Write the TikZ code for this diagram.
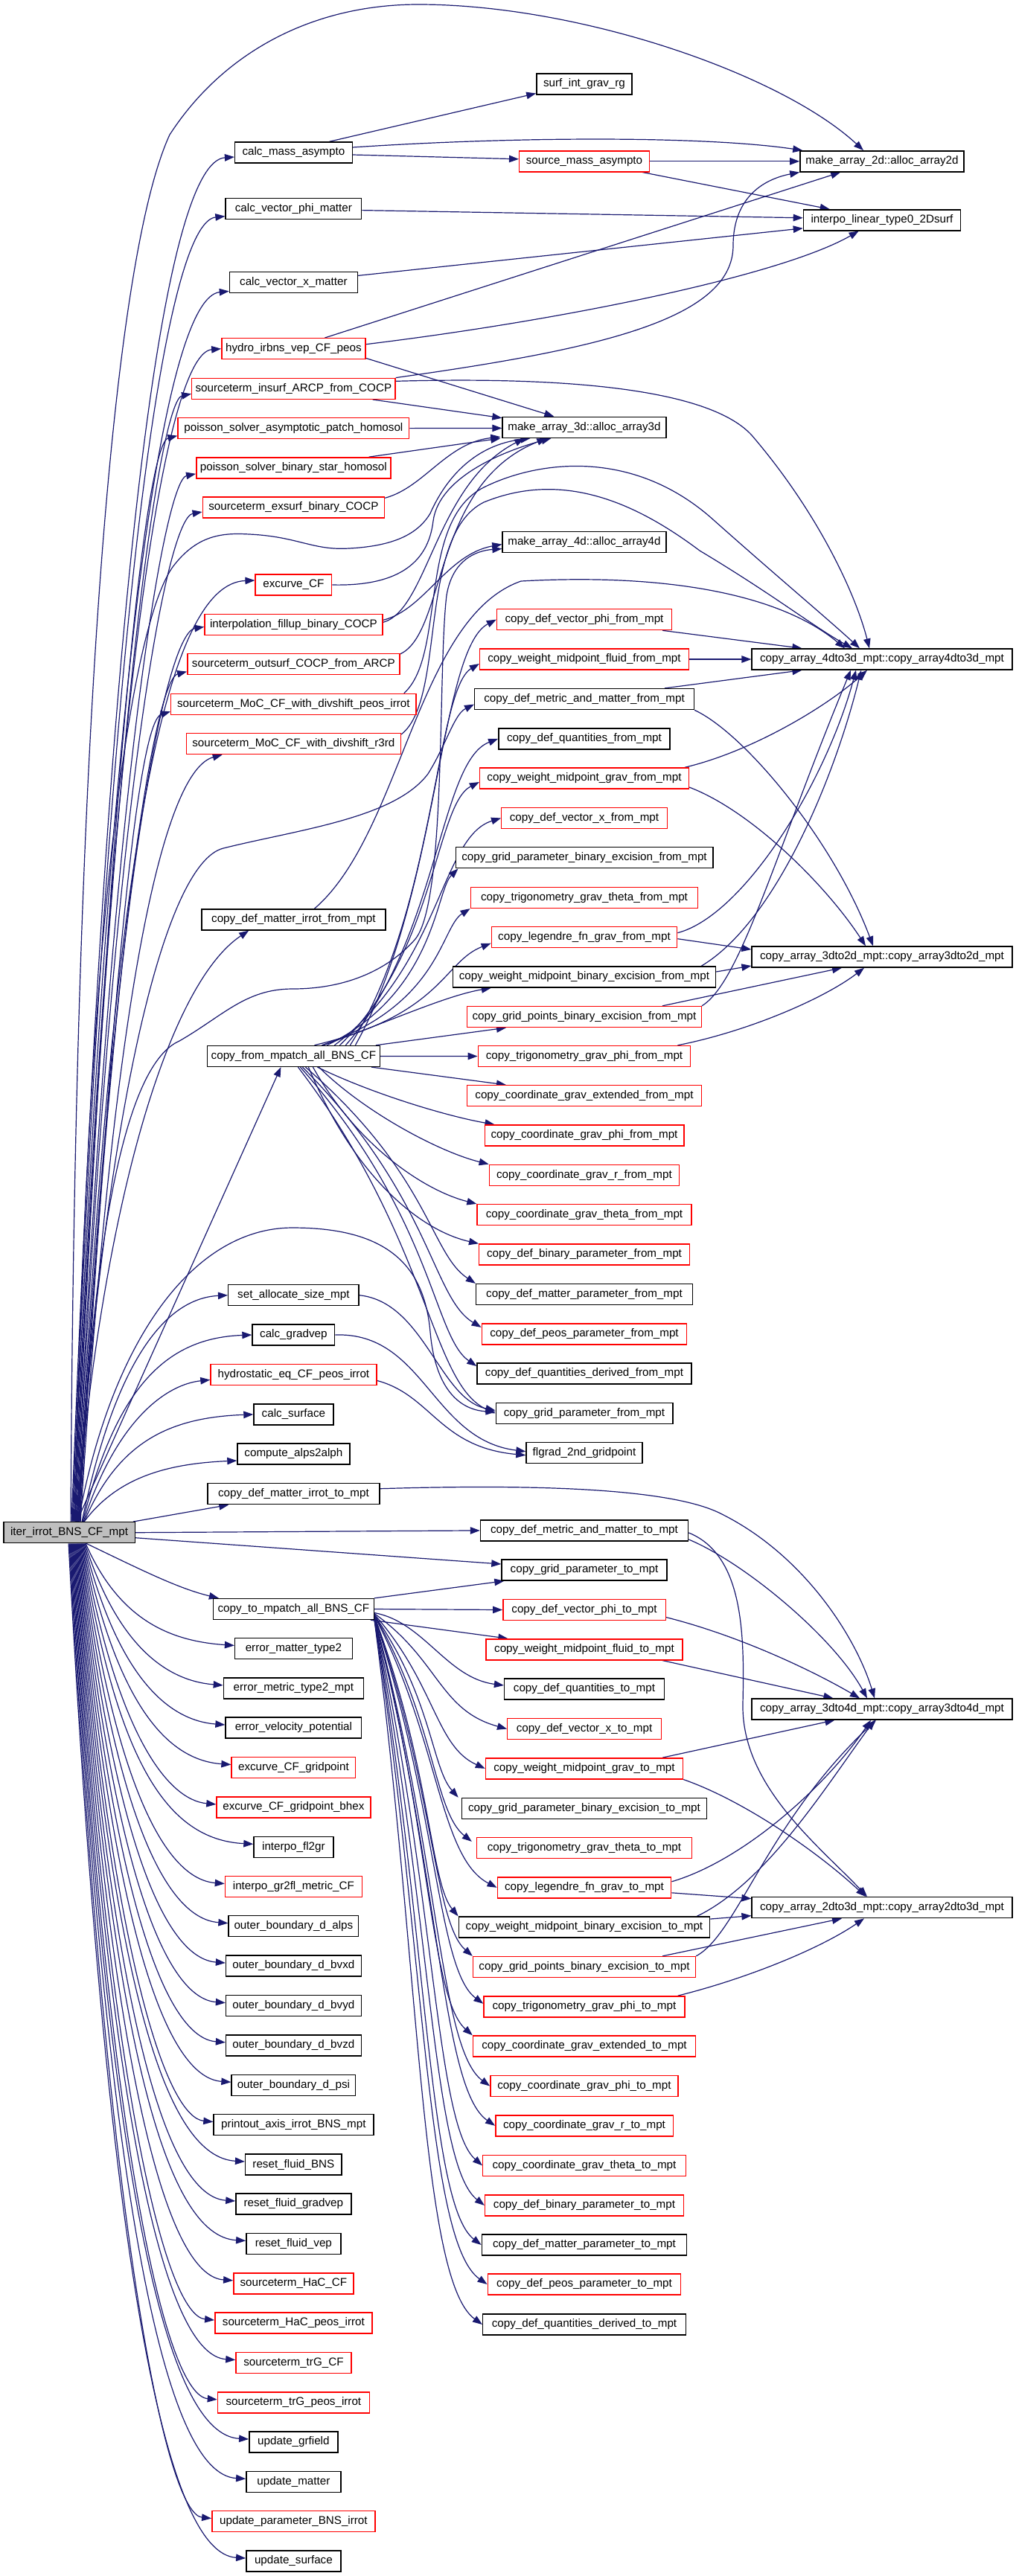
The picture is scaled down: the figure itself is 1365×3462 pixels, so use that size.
\documentclass[tikz,border=0pt]{standalone}
\usepackage{fontspec}
\setmainfont{Liberation Sans}
\usetikzlibrary{arrows.meta,calc}
\definecolor{edgecol}{HTML}{191970}
\definecolor{rootfill}{HTML}{BFBFBF}
\pgfdeclarelayer{bg}
\pgfsetlayers{bg,main}
\newcommand\mynode[6]{\node[#5,minimum width=#4pt] (#1) at (#2,#3) {#6};}
\newcommand\fanup[3]{\draw[edge] let \p1=($(root.north)+(#1,0)$), \p2=(#2) in (\p1) .. controls ({\x1+0.4*(225pt-\x1)},{\y2+0.27*(\y1-\y2)}) and ({min(\x2-40pt,225pt)},{\y2-#3pt}) .. (\p2);}
\newcommand\fandown[3]{\draw[edge] let \p1=($(root.south)+(#1,0)$), \p2=(#2) in (\p1) .. controls ({\x1+0.4*(225pt-\x1)},{\y2+0.27*(\y1-\y2)}) and ({min(\x2-40pt,225pt)},{\y2+#3pt}) .. (\p2);}
\newcommand\chanedge[5]{\draw[edge] let \p1=(#1), \p2=(#2) in (\p1) .. controls (#3pt,{\y1+#4*(\y2-\y1)}) and (#3pt,{\y2+#5}) .. (\p2);}
\begin{document}
\begin{tikzpicture}[x=1pt,y=-1pt,
  box/.style={draw=black, line width=1.4pt, minimum height=28pt, inner xsep=3pt, inner ysep=0pt, font=\fontsize{15.2}{16}\selectfont, fill=white},
  rbox/.style={box, draw=red},
  edge/.style={draw=edgecol, line width=1.2pt, -{Triangle[length=13pt,width=9.5pt]}}]
\useasboundingbox (0,0) rectangle (1365,3462);
% ---------- root
\mynode{root}{93.1}{2059.7}{176.4}{box,fill=rootfill}{iter\_irrot\_BNS\_CF\_mpt}
% ---------- column 2
\mynode{calcmass}{394.4}{205}{157.6}{box}{calc\_mass\_asympto}
\mynode{calcvphi}{394.4}{280.6}{182.7}{box}{calc\_vector\_phi\_matter}
\mynode{calcvx}{394.4}{379.4}{171.9}{box}{calc\_vector\_x\_matter}
\mynode{hydroirbns}{394.4}{468.7}{193.2}{rbox}{hydro\_irbns\_vep\_CF\_peos}
\mynode{stinsurf}{394.4}{522.3}{273.3}{rbox}{sourceterm\_insurf\_ARCP\_from\_COCP}
\mynode{psasym}{394.4}{575.6}{310.7}{rbox}{poisson\_solver\_asymptotic\_patch\_homosol}
\mynode{psbin}{394.4}{628.8}{261.2}{rbox}{poisson\_solver\_binary\_star\_homosol}
\mynode{stexsurf}{394.4}{682}{244.2}{rbox}{sourceterm\_exsurf\_binary\_COCP}
\mynode{excurve}{394.4}{786}{102.6}{rbox}{excurve\_CF}
\mynode{interpfill}{394.4}{839.4}{238.8}{rbox}{interpolation\_fillup\_binary\_COCP}
\mynode{stoutsurf}{394.4}{892.6}{285.2}{rbox}{sourceterm\_outsurf\_COCP\_from\_ARCP}
\mynode{stmocpeos}{394.4}{946.3}{329.4}{rbox}{sourceterm\_MoC\_CF\_with\_divshift\_peos\_irrot}
\mynode{stmocr3}{394.4}{999.6}{288}{rbox}{sourceterm\_MoC\_CF\_with\_divshift\_r3rd}
\mynode{cdmirrotfrom}{394.4}{1235.9}{246.9}{box}{copy\_def\_matter\_irrot\_from\_mpt}
\mynode{cfrom}{394.4}{1419.4}{231.7}{box}{copy\_from\_mpatch\_all\_BNS\_CF}
\mynode{setalloc}{394.4}{1740.7}{175.4}{box}{set\_allocate\_size\_mpt}
\mynode{calcgradvep}{394.4}{1794}{110.7}{box}{calc\_gradvep}
\mynode{hydrostatic}{394.4}{1847.4}{222.8}{rbox}{hydrostatic\_eq\_CF\_peos\_irrot}
\mynode{calcsurface}{394.4}{1900.9}{106.8}{box}{calc\_surface}
\mynode{computealps}{394.4}{1954}{150.8}{box}{compute\_alps2alph}
\mynode{cdmirrotto}{394.4}{2007.7}{230.8}{box}{copy\_def\_matter\_irrot\_to\_mpt}
\mynode{cto}{394.4}{2162.5}{215.6}{box}{copy\_to\_mpatch\_all\_BNS\_CF}
\mynode{errmatter}{394.4}{2215.4}{157.6}{box}{error\_matter\_type2}
\mynode{errmetric}{394.4}{2268.9}{188}{box}{error\_metric\_type2\_mpt}
\mynode{errvel}{394.4}{2322}{182.7}{box}{error\_velocity\_potential}
\mynode{excgp}{394.4}{2375.5}{166.7}{rbox}{excurve\_CF\_gridpoint}
\mynode{excgpbhex}{394.4}{2428.9}{206.8}{rbox}{excurve\_CF\_gridpoint\_bhex}
\mynode{interpfl}{394.4}{2482.3}{106.8}{box}{interpo\_fl2gr}
\mynode{interpgr}{394.4}{2535.5}{183.9}{rbox}{interpo\_gr2fl\_metric\_CF}
\mynode{obalps}{394.4}{2588.6}{174.7}{box}{outer\_boundary\_d\_alps}
\mynode{obbvxd}{394.4}{2642}{181.7}{box}{outer\_boundary\_d\_bvxd}
\mynode{obbvyd}{394.4}{2695.6}{181.7}{box}{outer\_boundary\_d\_bvyd}
\mynode{obbvzd}{394.4}{2748.8}{181.7}{box}{outer\_boundary\_d\_bvzd}
\mynode{obpsi}{394.4}{2802.2}{166.7}{box}{outer\_boundary\_d\_psi}
\mynode{printout}{394.4}{2855.6}{214.8}{box}{printout\_axis\_irrot\_BNS\_mpt}
\mynode{resetbns}{394.4}{2909}{129.5}{box}{reset\_fluid\_BNS}
\mynode{resetgrad}{394.4}{2962}{154.9}{box}{reset\_fluid\_gradvep}
\mynode{resetvep}{394.4}{3015.4}{127.2}{box}{reset\_fluid\_vep}
\mynode{sthaccf}{394.4}{3068.8}{161.2}{rbox}{sourceterm\_HaC\_CF}
\mynode{sthacpeos}{394.4}{3122}{211.2}{rbox}{sourceterm\_HaC\_peos\_irrot}
\mynode{sttrgcf}{394.4}{3175.5}{154.9}{rbox}{sourceterm\_trG\_CF}
\mynode{sttrgpeos}{394.4}{3228.8}{204}{rbox}{sourceterm\_trG\_peos\_irrot}
\mynode{updgr}{394.4}{3282}{119.2}{box}{update\_grfield}
\mynode{updmatter}{394.4}{3335.3}{127.2}{box}{update\_matter}
\mynode{updparam}{394.4}{3388.5}{219.2}{rbox}{update\_parameter\_BNS\_irrot}
\mynode{updsurf}{394.4}{3442}{127.2}{box}{update\_surface}
% ---------- column 3
\mynode{surfint}{785}{112.8}{128.2}{box}{surf\_int\_grav\_rg}
\mynode{srcmass}{785}{216.8}{174.6}{rbox}{source\_mass\_asympto}
\mynode{ma3d}{785}{574.4}{219.9}{box}{make\_array\_3d::alloc\_array3d}
\mynode{ma4d}{785}{728.5}{219.9}{box}{make\_array\_4d::alloc\_array4d}
\mynode{vphifrom}{785}{832.6}{234.9}{rbox}{copy\_def\_vector\_phi\_from\_mpt}
\mynode{wmfluidfrom}{785}{886}{280.8}{rbox}{copy\_weight\_midpoint\_fluid\_from\_mpt}
\mynode{metricfrom}{785}{939.6}{294.6}{box}{copy\_def\_metric\_and\_matter\_from\_mpt}
\mynode{quantfrom}{785}{992.9}{230.3}{box}{copy\_def\_quantities\_from\_mpt}
\mynode{wmgravfrom}{785}{1046}{280.8}{rbox}{copy\_weight\_midpoint\_grav\_from\_mpt}
\mynode{vxfrom}{785}{1099.5}{222.5}{rbox}{copy\_def\_vector\_x\_from\_mpt}
\mynode{gpbefrom}{785}{1152.7}{345.6}{box}{copy\_grid\_parameter\_binary\_excision\_from\_mpt}
\mynode{trigthetafrom}{785}{1206.4}{305.4}{rbox}{copy\_trigonometry\_grav\_theta\_from\_mpt}
\mynode{legfrom}{785}{1259.7}{249.4}{rbox}{copy\_legendre\_fn\_grav\_from\_mpt}
\mynode{wmbefrom}{785}{1313}{353}{box}{copy\_weight\_midpoint\_binary\_excision\_from\_mpt}
\mynode{gptsbefrom}{785}{1366.5}{314.6}{rbox}{copy\_grid\_points\_binary\_excision\_from\_mpt}
\mynode{trigphifrom}{785}{1419.5}{285.4}{rbox}{copy\_trigonometry\_grav\_phi\_from\_mpt}
\mynode{coordextfrom}{785}{1472.7}{314.6}{rbox}{copy\_coordinate\_grav\_extended\_from\_mpt}
\mynode{coordphifrom}{785}{1526}{267.6}{rbox}{copy\_coordinate\_grav\_phi\_from\_mpt}
\mynode{coordrfrom}{785}{1579.3}{255.3}{rbox}{copy\_coordinate\_grav\_r\_from\_mpt}
\mynode{coordthetafrom}{785}{1632.6}{288}{rbox}{copy\_coordinate\_grav\_theta\_from\_mpt}
\mynode{binparfrom}{785}{1686}{282.6}{rbox}{copy\_def\_binary\_parameter\_from\_mpt}
\mynode{matparfrom}{785}{1739.6}{290.8}{box}{copy\_def\_matter\_parameter\_from\_mpt}
\mynode{peosparfrom}{785}{1792.9}{275.4}{rbox}{copy\_def\_peos\_parameter\_from\_mpt}
\mynode{quantderfrom}{785}{1846}{288}{box}{copy\_def\_quantities\_derived\_from\_mpt}
\mynode{gridparfrom}{785}{1899.5}{237.6}{box}{copy\_grid\_parameter\_from\_mpt}
\mynode{flgrad}{785}{1952.7}{156}{box}{flgrad\_2nd\_gridpoint}
\mynode{metricto}{785}{2056.9}{279}{box}{copy\_def\_metric\_and\_matter\_to\_mpt}
\mynode{gridparto}{785}{2110}{222}{box}{copy\_grid\_parameter\_to\_mpt}
\mynode{vphito}{785}{2163.5}{218.4}{rbox}{copy\_def\_vector\_phi\_to\_mpt}
\mynode{wmfluidto}{785}{2216.8}{264}{rbox}{copy\_weight\_midpoint\_fluid\_to\_mpt}
\mynode{quantto}{785}{2270}{214.8}{box}{copy\_def\_quantities\_to\_mpt}
\mynode{vxto}{785}{2323.5}{206.5}{rbox}{copy\_def\_vector\_x\_to\_mpt}
\mynode{wmgravto}{785}{2376.8}{265}{rbox}{copy\_weight\_midpoint\_grav\_to\_mpt}
\mynode{gpbeto}{785}{2430.4}{329.2}{box}{copy\_grid\_parameter\_binary\_excision\_to\_mpt}
\mynode{trigthetato}{785}{2483.6}{289}{rbox}{copy\_trigonometry\_grav\_theta\_to\_mpt}
\mynode{legto}{785}{2536.8}{233.5}{rbox}{copy\_legendre\_fn\_grav\_to\_mpt}
\mynode{wmbeto}{785}{2590}{337.4}{box}{copy\_weight\_midpoint\_binary\_excision\_to\_mpt}
\mynode{gptsbeto}{785}{2643.5}{299}{rbox}{copy\_grid\_points\_binary\_excision\_to\_mpt}
\mynode{trigphito}{785}{2696.8}{270}{rbox}{copy\_trigonometry\_grav\_phi\_to\_mpt}
\mynode{coordextto}{785}{2750}{299}{rbox}{copy\_coordinate\_grav\_extended\_to\_mpt}
\mynode{coordphito}{785}{2803.5}{252.3}{rbox}{copy\_coordinate\_grav\_phi\_to\_mpt}
\mynode{coordrto}{785}{2856.8}{238.4}{rbox}{copy\_coordinate\_grav\_r\_to\_mpt}
\mynode{coordthetato}{785}{2910.3}{272.6}{rbox}{copy\_coordinate\_grav\_theta\_to\_mpt}
\mynode{binparto}{785}{2963.9}{266.8}{rbox}{copy\_def\_binary\_parameter\_to\_mpt}
\mynode{matparto}{785}{3017}{275.4}{box}{copy\_def\_matter\_parameter\_to\_mpt}
\mynode{peosparto}{785}{3070}{259.5}{rbox}{copy\_def\_peos\_parameter\_to\_mpt}
\mynode{quantderto}{785}{3124}{272.6}{box}{copy\_def\_quantities\_derived\_to\_mpt}
% ---------- column 4
\mynode{ma2d}{1185}{216.8}{220.2}{box}{make\_array\_2d::alloc\_array2d}
\mynode{interplin}{1185}{295.8}{211.2}{box}{interpo\_linear\_type0\_2Dsurf}
\mynode{a4to3}{1185}{886}{349.8}{box}{copy\_array\_4dto3d\_mpt::copy\_array4dto3d\_mpt}
\mynode{a3to2}{1185}{1286}{349.8}{box}{copy\_array\_3dto2d\_mpt::copy\_array3dto2d\_mpt}
\mynode{a3to4}{1185}{2297}{349.8}{box}{copy\_array\_3dto4d\_mpt::copy\_array3dto4d\_mpt}
\mynode{a2to3}{1185}{2563.6}{349.8}{box}{copy\_array\_2dto3d\_mpt::copy\_array2dto3d\_mpt}

\begin{pgfonlayer}{bg}
\fill[white] (0,0) rectangle (1365,3462);
% ---------- root fan upward
\draw[edge] ($(root.north)+(2,0)$) .. controls (100,1000) and (150,350) .. (228,181) .. controls (300,70) and (420,6) .. (562,6) .. controls (780,6) and (1050,100) .. ($(ma2d.north)+(-25,0)$);
\fanup{3}{$(calcmass.west)+(0,6)$}{6}
\fanup{4}{$(calcvphi.west)+(0,10)$}{8}
\fanup{5}{$(calcvx.west)+(0,12)$}{8}
\fanup{6}{hydroirbns.west}{6}
\fanup{7}{$(stinsurf.west)+(0,7)$}{8}
\fanup{8}{$(psasym.west)+(0,10)$}{10}
\fanup{9}{$(psbin.west)+(0,8)$}{8}
\fanup{10}{$(stexsurf.west)+(0,6)$}{8}
\draw[edge] ($(root.north)+(8,0)$) .. controls (115,1300) and (170,850) .. (232,762) .. controls (265,718) and (300,716) .. (335,718) .. controls (400,721) and (420,740) .. (469,737) .. controls (525,734) and (560,720) .. (578,690) .. controls (600,640) and (640,598) .. ($(ma3d.south west)+(38,0)$);
\fanup{11}{$(excurve.west)+(0,-6)$}{4}
\fanup{12}{$(interpfill.west)+(0,3)$}{8}
\fanup{13}{$(stoutsurf.west)+(0,10)$}{10}
\fanup{14}{$(stmocpeos.west)+(0,10)$}{12}
\fanup{15}{$(stmocr3.south west)+(49,0)$}{20}
\draw[edge] ($(root.north)+(11,0)$) .. controls (140,1500) and (220,1160) .. (300,1140) .. controls (400,1115) and (530,1100) .. (575,1040) .. controls (600,1000) and (610,960) .. ($(metricfrom.west)+(0,7)$);
\draw[edge] ($(root.north)+(13,0)$) .. controls (125,1650) and (170,1430) .. (241,1399) .. controls (300,1365) and (330,1329) .. (393,1329) .. controls (470,1329) and (525,1300) .. (558,1262) .. controls (600,1210) and (588,900) .. (600,800) .. controls (608,752) and (640,740) .. ($(ma4d.west)+(0,9)$);
\draw[edge] ($(root.north)+(9,0)$) .. controls (140,1600) and (230,1320) .. ($(cdmirrotfrom.south west)+(64,0)$);
\draw[edge] ($(root.north)+(10,0)$) -- ($(cfrom.south)+(-17,0)$);
\draw[edge] ($(root.north)+(12,0)$) .. controls (150,1800) and (260,1650) .. (393,1650) .. controls (520,1650) and (570,1700) .. (578,1790) .. controls (585,1870) and (620,1895) .. ($(gridparfrom.west)+(0,-2)$);
\fanup{17}{setalloc.west}{4}
\fanup{18}{calcgradvep.west}{4}
\fanup{19}{$(hydrostatic.west)+(0,7)$}{6}
\fanup{20}{calcsurface.west}{4}
\fanup{20}{$(computealps.west)+(0,9)$}{4}
\draw[edge] ($(root.north east)+(-3,0)$) -- ($(cdmirrotto.south west)+(29,0)$);
\draw[edge] (root.east) -- (metricto.west);
\draw[edge] ($(root.east)+(0,7)$) -- ($(gridparto.west)+(0,-8)$);
\draw[edge] ($(root.south)+(23,0)$) .. controls (190,2110) and (240,2135) .. ($(cto.north west)+(8,0)$);
% ---------- root fan downward
\fandown{22}{$(errmatter.west)+(0,-4)$}{6}
\fandown{21}{$(errmetric.west)+(0,-4)$}{6}
\fandown{20}{$(errvel.west)+(0,-4)$}{6}
\fandown{19}{$(excgp.west)+(0,-4)$}{6}
\fandown{18}{$(excgpbhex.west)+(0,-4)$}{6}
\fandown{17}{$(interpfl.west)+(0,-4)$}{6}
\fandown{16}{$(interpgr.west)+(0,-4)$}{6}
\fandown{15}{$(obalps.west)+(0,-4)$}{6}
\fandown{14}{$(obbvxd.west)+(0,-4)$}{6}
\fandown{13}{$(obbvyd.west)+(0,-4)$}{6}
\fandown{12}{$(obbvzd.west)+(0,-4)$}{6}
\fandown{11}{$(obpsi.west)+(0,-4)$}{6}
\fandown{10}{$(printout.west)+(0,-4)$}{6}
\fandown{9}{$(resetbns.west)+(0,-4)$}{6}
\fandown{8}{$(resetgrad.west)+(0,-4)$}{6}
\fandown{7}{$(resetvep.west)+(0,-4)$}{6}
\fandown{6}{$(sthaccf.west)+(0,-4)$}{6}
\fandown{5}{$(sthacpeos.west)+(0,-4)$}{6}
\fandown{4}{$(sttrgcf.west)+(0,-4)$}{6}
\fandown{3}{$(sttrgpeos.west)+(0,-4)$}{6}
\fandown{2}{$(updgr.west)+(0,-4)$}{6}
\fandown{1}{$(updmatter.west)+(0,-4)$}{6}
\fandown{0}{$(updparam.west)+(0,-4)$}{6}
\fandown{-1}{$(updsurf.west)+(0,-4)$}{6}
% ---------- upper column 2 -> 3/4
\draw[edge] ($(calcmass.north)+(48,0)$) -- ($(surfint.south west)+(0,-2)$);
\draw[edge] ($(calcmass.east)+(0,-7)$) .. controls (700,183) and (950,183) .. ($(ma2d.north west)+(4,0)$);
\draw[edge] ($(calcmass.east)+(0,3)$) -- ($(srcmass.west)+(0,-3)$);
\draw[edge] (srcmass.east) -- (ma2d.west);
\draw[edge] ($(srcmass.south east)+(-10,0)$) -- ($(interplin.north west)+(36,0)$);
\draw[edge] ($(calcvphi.east)+(0,2)$) -- ($(interplin.west)+(0,-3)$);
\draw[edge] ($(calcvx.east)+(0,-9)$) -- ($(interplin.west)+(0,11)$);
\draw[edge] ($(hydroirbns.north)+(42,0)$) -- ($(ma2d.south west)+(55,0)$);
\draw[edge] ($(hydroirbns.east)+(0,-6)$) .. controls (760,430) and (1050,370) .. ($(interplin.south west)+(75,0)$);
\draw[edge] ($(hydroirbns.south east)+(0,-2)$) -- ($(ma3d.north west)+(70,0)$);
\draw[edge] (stinsurf.north east) .. controls (800,470) and (985,430) .. (985,330) .. controls (985,262) and (1030,240) .. (ma2d.south west);
\draw[edge] ($(stinsurf.east)+(0,-10)$) .. controls (800,505) and (960,530) .. (1010,585) .. controls (1100,690) and (1150,800) .. ($(a4to3.north)+(-17,0)$);
\draw[edge] ($(stinsurf.south east)+(-31,0)$) -- ($(ma3d.north west)+(0,2)$);
\draw[edge] (psasym.east) -- ($(ma3d.west)+(0,1)$);
\draw[edge] ($(psbin.north east)+(-30,0)$) -- ($(ma3d.south west)+(-2,0)$);
\draw[edge] ($(stexsurf.north east)+(0,2)$) .. controls (570,655) and (600,595) .. ($(ma3d.south west)+(-2,-2)$);
\draw[edge] (excurve.east) .. controls (530,788) and (575,760) .. (582,700) .. controls (590,640) and (680,605) .. ($(ma3d.south west)+(66,0)$);
\draw[edge] ($(interpfill.east)+(0,-3)$) .. controls (575,820) and (585,650) .. ($(ma3d.south west)+(30,0)$);
\draw[edge] ($(interpfill.east)+(0,-6)$) .. controls (570,820) and (600,745) .. ($(ma4d.west)+(0,3)$);
\draw[edge] ($(stoutsurf.north east)+(0,1)$) .. controls (600,850) and (580,650) .. ($(ma3d.south west)+(60,0)$);
\draw[edge] ($(stmocpeos.north east)+(-17,0)$) .. controls (600,880) and (560,700) .. (650,655) .. controls (720,620) and (850,600) .. (960,700) .. controls (1050,780) and (1110,830) .. ($(a4to3.north)+(-30,0)$);
\draw[edge] ($(stmocr3.north east)+(0,2)$) .. controls (600,940) and (560,720) .. (650,675) .. controls (760,630) and (860,680) .. (940,740) .. controls (1040,800) and (1090,840) .. ($(a4to3.north)+(-40,0)$);
\draw[edge] ($(cdmirrotfrom.north)+(28,0)$) .. controls (540,1120) and (560,830) .. (700,781) .. controls (900,770) and (1050,800) .. ($(a4to3.north)+(-50,0)$);
% ---------- copy_from_mpatch fan
\chanedge{$(cfrom.north)+(83,0)$}{vphifrom.west}{590}{0.35}{-40pt}
\chanedge{$(cfrom.north)+(76,0)$}{$(wmfluidfrom.west)+(0,6)$}{585}{0.35}{-35pt}
\chanedge{$(cfrom.north)+(70,0)$}{quantfrom.west}{590}{0.35}{-30pt}
\chanedge{$(cfrom.north)+(62,0)$}{$(wmgravfrom.west)+(0,5)$}{585}{0.35}{-30pt}
\chanedge{$(cfrom.north)+(55,0)$}{vxfrom.west}{592}{0.35}{-25pt}
\chanedge{$(cfrom.north)+(45,0)$}{$(gpbefrom.south west)+(4,0)$}{585}{0.3}{-30pt}
\chanedge{$(cfrom.north)+(38,0)$}{trigthetafrom.south west}{592}{0.3}{-25pt}
\chanedge{$(cfrom.north)+(28,0)$}{$(legfrom.west)+(0,8)$}{595}{0.3}{-25pt}
\draw[edge] ($(cfrom.north)+(40,0)$) .. controls (530,1370) and (600,1338) .. ($(wmbefrom.south west)+(52,0)$);
\draw[edge] ($(cfrom.north east)+(-6,0)$) -- ($(gptsbefrom.south west)+(53,0)$);
\draw[edge] (cfrom.east) -- (trigphifrom.west);
\draw[edge] ($(cfrom.south east)+(-12,0)$) -- ($(coordextfrom.north west)+(53,0)$);
\draw[edge] ($(cfrom.south)+(32,0)$) .. controls (500,1470) and (600,1500) .. ($(coordphifrom.north west)+(14,0)$);
\draw[edge] ($(cfrom.south)+(34,0)$) .. controls (490,1495) and (590,1548) .. (coordrfrom.north west);
\draw[edge] ($(cfrom.south)+(26,0)$) .. controls (480,1540) and (570,1600) .. (coordthetafrom.north west);
\draw[edge] ($(cfrom.south)+(20,0)$) .. controls (480,1590) and (570,1655) .. (binparfrom.north west);
\chanedge{$(cfrom.south)+(16,0)$}{matparfrom.north west}{578}{0.5}{40pt}
\chanedge{$(cfrom.south)+(12,0)$}{$(peosparfrom.west)+(0,-9)$}{580}{0.5}{40pt}
\chanedge{$(cfrom.south)+(9,0)$}{$(quantderfrom.west)+(0,-10)$}{582}{0.5}{40pt}
\chanedge{$(cfrom.south)+(6,0)$}{gridparfrom.west}{578}{0.5}{40pt}
\draw[edge] (setalloc.east) .. controls (570,1750) and (590,1880) .. ($(gridparfrom.west)+(0,-4)$);
\draw[edge] (calcgradvep.east) .. controls (570,1790) and (580,1935) .. ($(flgrad.west)+(0,-2)$);
\draw[edge] ($(hydrostatic.east)+(0,8)$) .. controls (580,1875) and (590,1945) .. ($(flgrad.west)+(0,3)$);
% ---------- from side col3 -> col4
\draw[edge] ($(vphifrom.south east)+(-13,0)$) -- ($(a4to3.north west)+(68,0)$);
\draw[edge] (wmfluidfrom.east) -- (a4to3.west);
\draw[edge] ($(metricfrom.north east)+(-40,0)$) -- ($(a4to3.south west)+(68,0)$);
\draw[edge] (metricfrom.south east) .. controls (1000,985) and (1120,1130) .. ($(a3to2.north)+(-12,0)$);
\draw[edge] ($(wmgravfrom.north east)+(-6,0)$) .. controls (1010,1010) and (1110,950) .. ($(a4to3.south)+(-20,0)$);
\draw[edge] ($(wmgravfrom.east)+(0,12)$) .. controls (1010,1090) and (1110,1190) .. ($(a3to2.north)+(-22,0)$);
\draw[edge] ($(legfrom.east)+(0,-6)$) .. controls (1000,1230) and (1110,1050) .. ($(a4to3.south)+(-35,0)$);
\draw[edge] ($(legfrom.east)+(0,2)$) -- ($(a3to2.west)+(0,-10)$);
\draw[edge] ($(wmbefrom.north east)+(-20,0)$) .. controls (1040,1240) and (1120,1050) .. ($(a4to3.south)+(-28,0)$);
\draw[edge] ($(wmbefrom.east)+(0,-7)$) -- ($(a3to2.west)+(0,12)$);
\draw[edge] (gptsbefrom.north east) .. controls (995,1320) and (1040,1150) .. ($(a4to3.south)+(-42,0)$);
\draw[edge] ($(gptsbefrom.north east)+(-53,0)$) -- ($(a3to2.south)+(-54,0)$);
\draw[edge] ($(trigphifrom.north east)+(-18,0)$) .. controls (1010,1385) and (1110,1340) .. ($(a3to2.south)+(-24,0)$);
% ---------- copy_to_mpatch fan
\draw[edge] (cto.north east) -- ($(gridparto.south west)+(4,0)$);
\draw[edge] (cto.east) -- (vphito.west);
\draw[edge] ($(cto.south east)+(-5,0)$) -- ($(wmfluidto.north west)+(30,0)$);
\draw[edge] ($(cto.east)+(0,5)$) .. controls (570,2180) and (600,2255) .. ($(quantto.west)+(0,-5)$);
\chanedge{$(cto.east)+(0,6)$}{vxto.west}{590}{0.4}{25pt}
\chanedge{$(cto.east)+(0,7)$}{wmgravto.west}{585}{0.45}{30pt}
\chanedge{$(cto.east)+(0,8)$}{$(gpbeto.north west)+(-4,0)$}{580}{0.45}{40pt}
\chanedge{$(cto.east)+(0,8)$}{$(trigthetato.north west)+(-6,6)$}{583}{0.45}{40pt}
\chanedge{$(cto.east)+(0,9)$}{legto.west}{590}{0.45}{40pt}
\chanedge{$(cto.east)+(0,9)$}{wmbeto.north west}{578}{0.5}{45pt}
\chanedge{$(cto.east)+(0,10)$}{gptsbeto.north west}{583}{0.5}{45pt}
\chanedge{$(cto.east)+(0,10)$}{$(trigphito.west)+(0,-4)$}{588}{0.5}{45pt}
\chanedge{$(cto.east)+(0,11)$}{coordextto.north west}{578}{0.5}{50pt}
\chanedge{$(cto.east)+(0,11)$}{coordphito.west}{590}{0.5}{50pt}
\chanedge{$(cto.east)+(0,12)$}{coordrto.west}{592}{0.5}{50pt}
\chanedge{$(cto.east)+(0,12)$}{coordthetato.west}{585}{0.5}{55pt}
\chanedge{$(cto.east)+(0,13)$}{binparto.west}{580}{0.5}{55pt}
\chanedge{$(cto.east)+(0,13)$}{matparto.west}{575}{0.5}{55pt}
\chanedge{$(cto.east)+(0,14)$}{peosparto.west}{572}{0.5}{58pt}
\chanedge{$(cto.east)+(0,14)$}{quantderto.west}{565}{0.5}{60pt}
% ---------- to side col3 -> col4
\draw[edge] ($(cdmirrotto.east)+(0,-7)$) .. controls (700,1995) and (900,1998) .. (970,2035) .. controls (1080,2090) and (1150,2200) .. ($(a3to4.north)+(-10,0)$);
\draw[edge] ($(metricto.east)+(0,12)$) .. controls (1000,2100) and (1120,2200) .. ($(a3to4.north)+(-20,0)$);
\draw[edge] ($(metricto.east)+(0,3)$) .. controls (1000,2090) and (1000,2200) .. (998,2290) .. controls (996,2400) and (1100,2480) .. ($(a2to3.north)+(-20,0)$);
\draw[edge] ($(vphito.east)+(0,10)$) .. controls (1000,2200) and (1100,2250) .. ($(a3to4.north)+(-30,0)$);
\draw[edge] ($(wmfluidto.south east)+(-28,0)$) -- ($(a3to4.north west)+(110,0)$);
\draw[edge] ($(wmgravto.north east)+(-28,0)$) -- ($(a3to4.south west)+(112,0)$);
\draw[edge] (wmgravto.south east) .. controls (1000,2420) and (1100,2490) .. ($(a2to3.north)+(-22,0)$);
\draw[edge] ($(legto.east)+(0,-8)$) .. controls (1000,2500) and (1110,2400) .. ($(a3to4.south)+(-15,0)$);
\draw[edge] ($(legto.east)+(0,7)$) -- ($(a2to3.west)+(0,-12)$);
\draw[edge] ($(wmbeto.north east)+(-18,0)$) .. controls (1030,2530) and (1110,2400) .. ($(a3to4.south)+(-10,0)$);
\draw[edge] ($(wmbeto.east)+(0,-11)$) -- ($(a2to3.west)+(0,11)$);
\draw[edge] (gptsbeto.north east) .. controls (990,2600) and (1030,2450) .. ($(a3to4.south)+(-8,0)$);
\draw[edge] ($(gptsbeto.north east)+(-45,0)$) -- ($(a2to3.south)+(-54,0)$);
\draw[edge] ($(trigphito.north east)+(-10,0)$) .. controls (1000,2660) and (1100,2620) .. ($(a2to3.south)+(-24,0)$);
\end{pgfonlayer}
\end{tikzpicture}
\end{document}
